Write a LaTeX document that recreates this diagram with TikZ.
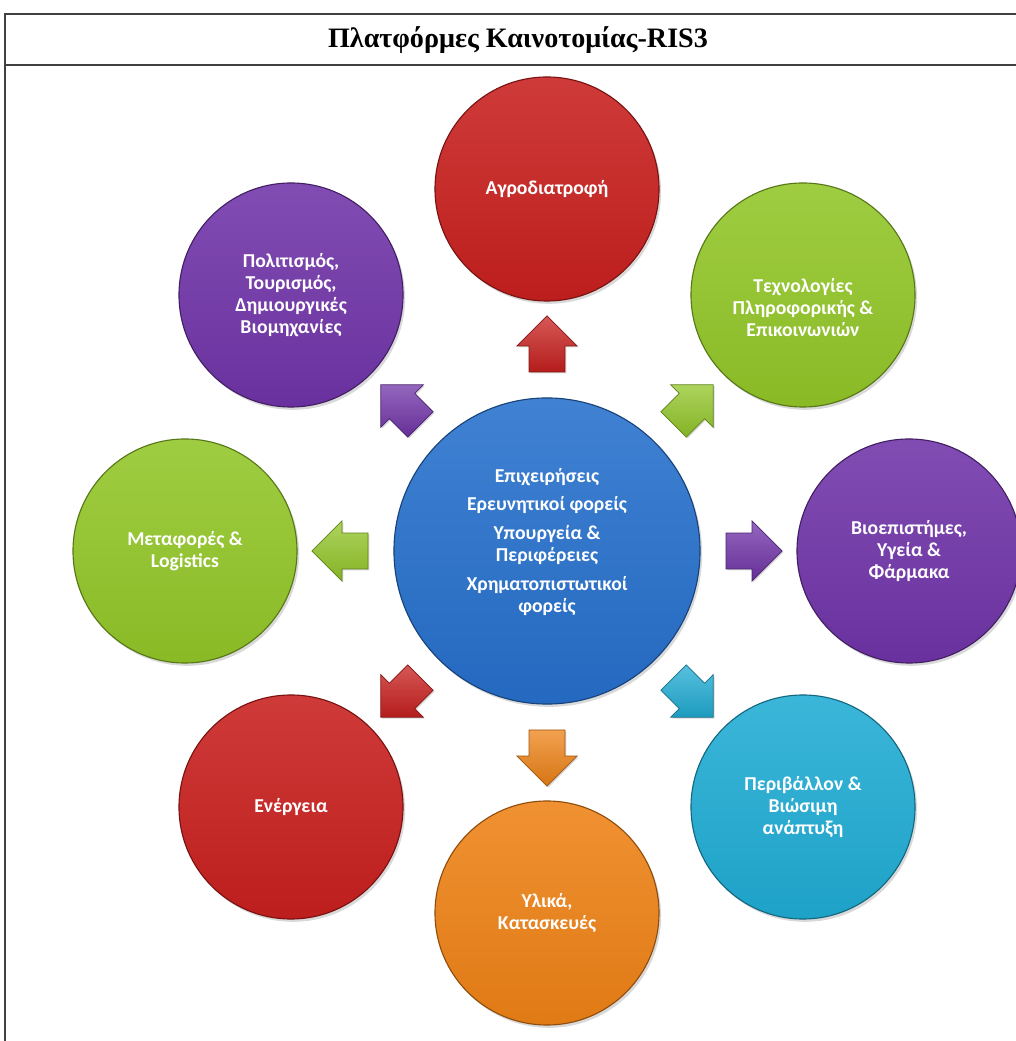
\documentclass[tikz,border=0pt]{standalone}
\usepackage{fontspec}
\setmainfont{Liberation Serif}
\newfontfamily\platfont{Carlito}
\usetikzlibrary{calc,shapes.arrows,shadows}

\definecolor{platred}{RGB}{200,32,30}
\definecolor{platpurple}{RGB}{112,52,168}
\definecolor{platgreen}{RGB}{146,198,40}
\definecolor{platblue}{RGB}{38,112,204}
\definecolor{platcyan}{RGB}{32,172,212}
\definecolor{platorange}{RGB}{238,130,22}

\begin{document}
\begin{tikzpicture}[x=0.025cm,y=0.025cm,
  platform/.style={circle,minimum size=5.6cm,inner sep=0pt,text=white,align=center,
    font=\platfont\bfseries\fontsize{14}{15.5}\selectfont,
    top color=#1!88!white,bottom color=#1!94!black,draw=#1!60!black,line width=0.8pt,
    drop shadow={opacity=0.3,shadow xshift=1.5pt,shadow yshift=-2pt}},
  flow/.style={single arrow,minimum height=1.4cm,minimum width=1.5cm,
    single arrow head extend=0.3cm,inner xsep=0pt,inner ysep=0.44cm,
    top color=#1!75!white,bottom color=#1!90!black,draw=#1!65!black,line width=0.5pt,
    drop shadow={opacity=0.3,shadow xshift=1pt,shadow yshift=-1pt}}]
\useasboundingbox (0,0) rectangle (1016,1041);
% table frame and title
\draw[line width=1.5pt,black!75] (5,0) -- (5,1027) -- (1016,1027);
\draw[line width=1.5pt,black!75] (5,976) -- (1016,976);
\node[font=\bfseries\fontsize{20}{24}\selectfont] (title) at (518,1001) {Πλατφόρμες Καινοτομίας-RIS3};
% centre
\node[platform=platblue,minimum size=7.65cm] (hub) at (547,490) {Επιχειρήσεις\\[5pt]Ερευνητικοί φορείς\\[5pt]Υπουργεία \&\\Περιφέρειες\\[5pt]Χρηματοπιστωτικοί\\φορείς\\~};
% platforms
\node[platform=platred] (agro) at (547,852) {Αγροδιατροφή};
\node[platform=platgreen] (tech) at (803,746) {~\\[12pt]Τεχνολογίες\\Πληροφορικής \&\\Επικοινωνιών};
\node[platform=platpurple] (bio) at (909,490) {Βιοεπιστήμες,\\Υγεία \&\\Φάρμακα};
\node[platform=platcyan] (env) at (803,234) {Περιβάλλον \&\\Βιώσιμη\\ανάπτυξη};
\node[platform=platorange] (mat) at (547,128) {Υλικά,\\Κατασκευές};
\node[platform=platred] (energy) at (291,234) {Ενέργεια};
\node[platform=platgreen] (trans) at (185,490) {Μεταφορές \&\\Logistics};
\node[platform=platpurple] (cult) at (291,746) {Πολιτισμός,\\Τουρισμός,\\Δημιουργικές\\Βιομηχανίες};
% arrows
\node[flow=platred,rotate=90] (toagro) at ($(hub)!0.547!(agro)$) {};
\node[flow=platgreen,rotate=45] (totech) at ($(hub)!0.547!(tech)$) {};
\node[flow=platpurple] (tobio) at ($(hub)!0.547!(bio)$) {};
\node[flow=platcyan,rotate=-45] (toenv) at ($(hub)!0.547!(env)$) {};
\node[flow=platorange,rotate=-90] (tomat) at ($(hub)!0.547!(mat)$) {};
\node[flow=platred,rotate=-135] (toenergy) at ($(hub)!0.547!(energy)$) {};
\node[flow=platgreen,rotate=180] (totrans) at ($(hub)!0.547!(trans)$) {};
\node[flow=platpurple,rotate=135] (tocult) at ($(hub)!0.547!(cult)$) {};
\end{tikzpicture}
\end{document}
